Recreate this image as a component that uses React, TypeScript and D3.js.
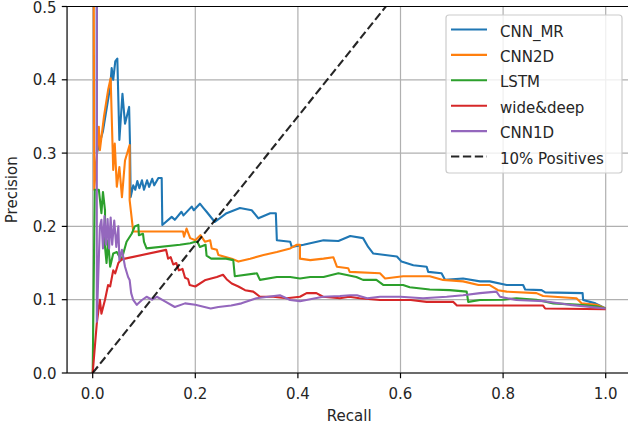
import React from "react";
import * as d3 from "d3";

const seriesNames = ["CNN_MR", "CNN2D", "LSTM", "wide&deep", "CNN1D"];
const seriesColors = ["#1f77b4", "#ff7f0e", "#2ca02c", "#d62728", "#9467bd"];
const baselineLabel = "10% Positives";
const baselineSlope = 0.875;

const xTicks = [0.0, 0.2, 0.4, 0.6, 0.8, 1.0];
const yTicks = [0.0, 0.1, 0.2, 0.3, 0.4, 0.5];

const cnnMR: [number, number][] = [
  [0, 1], [0.008, 0.55], [0.008, 0.3], [0.02, 0.33], [0.034, 0.39], [0.037, 0.416], [0.04, 0.4], [0.044, 0.425],
  [0.048, 0.429], [0.052, 0.318], [0.058, 0.381], [0.063, 0.34], [0.071, 0.363], [0.0727, 0.313], [0.074, 0.24],
  [0.079, 0.256], [0.083, 0.25], [0.087, 0.262], [0.091, 0.252], [0.096, 0.263], [0.1, 0.25], [0.106, 0.263],
  [0.11, 0.254], [0.116, 0.265], [0.12, 0.256], [0.128, 0.266], [0.1345, 0.266], [0.1357, 0.202], [0.154, 0.213],
  [0.16, 0.209], [0.173, 0.22], [0.177, 0.215], [0.193, 0.227], [0.197, 0.222], [0.209, 0.231], [0.216, 0.225],
  [0.222, 0.22], [0.238, 0.206], [0.261, 0.218], [0.287, 0.225], [0.31, 0.222], [0.323, 0.211], [0.346, 0.218],
  [0.357, 0.218], [0.359, 0.181], [0.385, 0.179], [0.388, 0.172], [0.411, 0.175], [0.45, 0.181], [0.479, 0.18],
  [0.502, 0.187], [0.527, 0.184], [0.537, 0.172], [0.547, 0.163], [0.593, 0.159], [0.602, 0.152], [0.625, 0.147],
  [0.651, 0.145], [0.654, 0.138], [0.68, 0.136], [0.687, 0.127], [0.722, 0.129], [0.755, 0.125], [0.774, 0.125],
  [0.807, 0.12], [0.839, 0.12], [0.843, 0.114], [0.875, 0.113], [0.882, 0.11], [0.955, 0.109], [0.956, 0.0996],
  [0.98, 0.095], [1.0, 0.088],
];

const cnn2D: [number, number][] = [
  [0, 1], [0.002, 0.55], [0.003, 0.25], [0.012, 0.336], [0.014, 0.304], [0.022, 0.35], [0.03, 0.386], [0.035, 0.402],
  [0.04, 0.277], [0.043, 0.313], [0.047, 0.254], [0.052, 0.281], [0.057, 0.24], [0.063, 0.29], [0.072, 0.311],
  [0.072, 0.236], [0.079, 0.193], [0.176, 0.193], [0.178, 0.186], [0.183, 0.197], [0.19, 0.184], [0.2, 0.181],
  [0.21, 0.188], [0.219, 0.179], [0.229, 0.181], [0.232, 0.17], [0.242, 0.168], [0.245, 0.161], [0.271, 0.156],
  [0.284, 0.152], [0.307, 0.156], [0.333, 0.161], [0.359, 0.165], [0.385, 0.17], [0.398, 0.175], [0.404, 0.175],
  [0.404, 0.156], [0.424, 0.154], [0.45, 0.156], [0.469, 0.158], [0.476, 0.145], [0.498, 0.143], [0.501, 0.138],
  [0.56, 0.136], [0.57, 0.129], [0.605, 0.132], [0.657, 0.132], [0.683, 0.127], [0.722, 0.125], [0.752, 0.12],
  [0.774, 0.12], [0.79, 0.113], [0.807, 0.111], [0.865, 0.109], [0.878, 0.105], [0.943, 0.102], [0.953, 0.095],
  [0.982, 0.093], [1.0, 0.088],
];

const lstm: [number, number][] = [
  [0, 0], [0.004, 0.25], [0.012, 0.25], [0.017, 0.218], [0.02, 0.247], [0.024, 0.222], [0.024, 0.172],
  [0.027, 0.15], [0.03, 0.181], [0.034, 0.145], [0.04, 0.163], [0.047, 0.165], [0.056, 0.154], [0.066, 0.179],
  [0.076, 0.19], [0.082, 0.2], [0.089, 0.202], [0.09, 0.188], [0.098, 0.19], [0.1, 0.179], [0.105, 0.17],
  [0.17, 0.175], [0.19, 0.177], [0.2, 0.179], [0.204, 0.179], [0.209, 0.172], [0.22, 0.175], [0.222, 0.16],
  [0.231, 0.156], [0.26, 0.156], [0.274, 0.154], [0.277, 0.132], [0.32, 0.136], [0.326, 0.127], [0.359, 0.131],
  [0.385, 0.131], [0.404, 0.129], [0.424, 0.131], [0.45, 0.131], [0.479, 0.136], [0.5, 0.133], [0.514, 0.131],
  [0.527, 0.127], [0.553, 0.127], [0.567, 0.12], [0.605, 0.12], [0.618, 0.117], [0.657, 0.114], [0.696, 0.113],
  [0.729, 0.111], [0.732, 0.097], [0.755, 0.0996], [0.8, 0.1], [0.826, 0.102], [0.865, 0.1], [0.898, 0.095],
  [0.95, 0.093], [0.982, 0.091], [1.0, 0.088],
];

const wideDeep: [number, number][] = [
  [0, 0], [0.008, 0.068], [0.014, 0.1], [0.017, 0.081], [0.024, 0.1], [0.03, 0.12], [0.034, 0.118], [0.04, 0.14],
  [0.044, 0.136], [0.05, 0.15], [0.056, 0.155], [0.143, 0.168], [0.147, 0.156], [0.152, 0.158], [0.157, 0.148],
  [0.163, 0.15], [0.168, 0.14], [0.175, 0.142], [0.18, 0.13], [0.186, 0.128], [0.189, 0.12], [0.2, 0.118],
  [0.22, 0.127], [0.242, 0.131], [0.254, 0.134], [0.261, 0.128], [0.271, 0.122], [0.284, 0.118], [0.297, 0.113],
  [0.313, 0.111], [0.326, 0.104], [0.352, 0.104], [0.378, 0.102], [0.404, 0.104], [0.417, 0.109], [0.436, 0.109],
  [0.449, 0.104], [0.482, 0.102], [0.5, 0.104], [0.52, 0.102], [0.56, 0.0996], [0.62, 0.0996], [0.651, 0.097],
  [0.703, 0.097], [0.71, 0.092], [0.78, 0.092], [0.878, 0.092], [0.882, 0.088], [1.0, 0.087],
];

const cnn1D: [number, number][] = [
  [0, 1], [0.008, 0.6], [0.008, 0.07], [0.014, 0.2], [0.017, 0.209], [0.02, 0.17], [0.023, 0.214], [0.026, 0.175],
  [0.029, 0.21], [0.032, 0.17], [0.035, 0.212], [0.038, 0.175], [0.042, 0.208], [0.046, 0.172], [0.05, 0.2],
  [0.052, 0.154], [0.057, 0.168], [0.063, 0.145], [0.069, 0.131], [0.072, 0.127], [0.075, 0.109], [0.079, 0.0996],
  [0.086, 0.093], [0.096, 0.0996], [0.105, 0.104], [0.116, 0.1], [0.125, 0.104], [0.14, 0.098], [0.16, 0.09],
  [0.18, 0.095], [0.2, 0.093], [0.23, 0.088], [0.245, 0.09], [0.27, 0.092], [0.29, 0.095], [0.319, 0.102],
  [0.365, 0.106], [0.385, 0.0996], [0.404, 0.098], [0.449, 0.104], [0.482, 0.105], [0.502, 0.106], [0.515, 0.106],
  [0.535, 0.102], [0.56, 0.104], [0.6, 0.104], [0.644, 0.102], [0.69, 0.104], [0.722, 0.106], [0.755, 0.109],
  [0.787, 0.111], [0.794, 0.104], [0.826, 0.0996], [0.88, 0.098], [0.93, 0.093], [1.0, 0.088],
];

const allSeries = [cnnMR, cnn2D, lstm, wideDeep, cnn1D];

export default function App() {
  const W = 628, H = 430;
  const x = d3.scaleLinear().domain([-0.05, 1.05]).range([67.05, 631.35]);
  const y = d3.scaleLinear().domain([0, 0.5]).range([373, 6.5]);
  const line = d3.line<[number, number]>().x((d) => x(d[0])).y((d) => y(d[1]));
  const font = "'DejaVu Sans', sans-serif";
  const x0 = x.range()[0], x1 = x.range()[1], y0 = y.range()[0], y1 = y.range()[1];
  const base: [number, number][] = [[0, 0], [1, baselineSlope]];
  const handleY0 = 29.5, rowGap = 25.4;
  const legendItems = [
    ...seriesNames.map((n, i) => ({ name: n, color: seriesColors[i], dash: "" })),
    { name: baselineLabel, color: "#000", dash: "8.3,3.6" },
  ];
  return (
    <svg width={W} height={H} style={{ position: "absolute", left: 0, top: 0, background: "#fff" }} fontFamily={font}>
      <defs>
        <clipPath id="plot">
          <rect x={x0} y={y1} width={x1 - x0} height={y0 - y1} />
        </clipPath>
      </defs>
      <rect width={W} height={H} fill="#fff" />
      {xTicks.map((t) => (
        <line key={"gx" + t} x1={x(t)} x2={x(t)} y1={y1} y2={y0} stroke="#b0b0b0" strokeWidth={1.2} />
      ))}
      {yTicks.map((t) => (
        <line key={"gy" + t} x1={x0} x2={x1} y1={y(t)} y2={y(t)} stroke="#b0b0b0" strokeWidth={1.2} />
      ))}
      <g clipPath="url(#plot)">
        {allSeries.map((s, i) => (
          <path key={i} d={line(s) || ""} fill="none" stroke={seriesColors[i]} strokeWidth={2.1} strokeLinejoin="round" />
        ))}
        <path d={line(base) || ""} fill="none" stroke="#000" strokeWidth={2.1} strokeDasharray="8.3,3.6" opacity={0.85} />
      </g>
      <line x1={x0} x2={x0} y1={y1} y2={y0} stroke="#000" strokeWidth={1.2} />
      <line x1={x0} x2={x1} y1={y0} y2={y0} stroke="#000" strokeWidth={1.2} />
      <line x1={x0} x2={x1} y1={y1} y2={y1} stroke="#000" strokeWidth={1.2} />
      {xTicks.map((t) => (
        <g key={"tx" + t}>
          <line x1={x(t)} x2={x(t)} y1={y0} y2={y0 + 5.25} stroke="#000" strokeWidth={1.2} />
          <text x={x(t)} y={399} textAnchor="middle" fontSize={15} fill="#262626">{t.toFixed(1)}</text>
        </g>
      ))}
      {yTicks.map((t) => (
        <g key={"ty" + t}>
          <line x1={x0} x2={x0 - 5.25} y1={y(t)} y2={y(t)} stroke="#000" strokeWidth={1.2} />
          <text x={x0 - 10.5} y={Math.max(y(t) + 5.5, 13)} textAnchor="end" fontSize={15} fill="#262626">{t.toFixed(1)}</text>
        </g>
      ))}
      <text x={x(0.5)} y={421} textAnchor="middle" fontSize={15} fill="#262626">Recall</text>
      <text transform={`translate(16.5, ${(y0 + y1) / 2}) rotate(-90)`} textAnchor="middle" fontSize={15} fill="#262626">Precision</text>
      <g>
        <rect x={446} y={15} width={176} height={158} rx={3} fill="#fff" fillOpacity={0.8} stroke="#cccccc" strokeWidth={1.2} />
        {legendItems.map((it, i) => (
          <g key={it.name}>
            <line x1={451} x2={487} y1={handleY0 + i * rowGap} y2={handleY0 + i * rowGap} stroke={it.color} strokeWidth={2.1} strokeDasharray={it.dash || undefined} opacity={it.dash ? 0.85 : 1} />
            <text x={500} y={handleY0 + i * rowGap + 7} fontSize={15} fill="#262626">{it.name}</text>
          </g>
        ))}
      </g>
    </svg>
  );
}
